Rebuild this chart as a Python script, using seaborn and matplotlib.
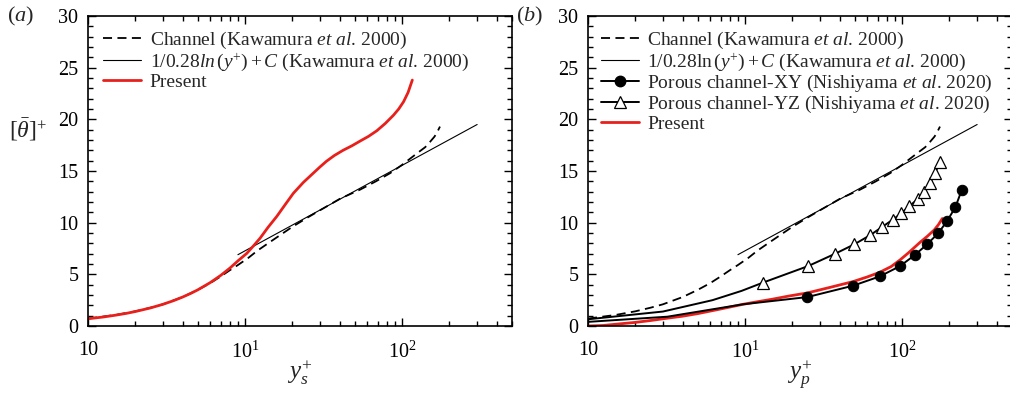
import numpy as np
import pandas as pd
import matplotlib
matplotlib.use("Agg")
import matplotlib.pyplot as plt
import seaborn as sns
from matplotlib.lines import Line2D
from matplotlib.ticker import FixedLocator, FixedFormatter, LogLocator, NullFormatter, MultipleLocator

# ---------------- data ----------------
# Channel DNS (Kawamura et al. 2000)
channel_y = [1, 1.5, 2, 2.5, 3, 4, 5, 6, 7, 8, 9, 10.5, 12, 14, 16, 20, 25, 30, 40, 54, 68, 84, 100, 124, 140, 150, 160, 165, 174]
channel_t = [0.72, 1.07, 1.42, 1.77, 2.1, 2.8, 3.5, 4.15, 4.8, 5.4, 5.9, 6.6, 7.3, 8.0, 8.6, 9.6, 10.5, 11.2, 12.3, 13.2, 14.0, 14.8, 15.6, 16.7, 17.3, 17.8, 18.3, 18.6, 19.3]

# log law 1/0.28 ln(y+) + C : end points
loglaw_y = [9, 300]
loglaw_t = [6.9, 19.5]

# Present, panel (a)
present_a_y = [1, 1.25, 1.5, 1.75, 2, 2.5, 3, 3.5, 4, 4.5, 5, 6, 7, 8, 9, 10.25, 11.3, 12.46, 14, 15.9, 18, 20.3, 23.5, 27.2,
               30, 33, 37, 42, 48, 54, 61, 69, 78, 88, 95, 102, 109, 116]
present_a_t = [0.7, 0.87, 1.05, 1.22, 1.4, 1.75, 2.1, 2.45, 2.8, 3.15, 3.5, 4.2, 4.9, 5.6, 6.3, 7.03, 7.75, 8.5, 9.55, 10.6, 11.75, 12.85, 13.9, 14.8,
               15.4, 15.95, 16.5, 17.0, 17.45, 17.9, 18.35, 18.9, 19.6, 20.4, 21.0, 21.7, 22.6, 23.8]

# Present, panel (b)
present_b_y = [1, 1.25, 1.5, 2, 2.5, 3, 4, 5, 7, 9.7, 12, 15, 19, 24.9, 35, 48.7, 60, 72, 85, 97, 110, 130, 145, 160, 170, 180]
present_b_t = [0.0, 0.05, 0.17, 0.35, 0.53, 0.7, 0.95, 1.2, 1.65, 2.1, 2.35, 2.6, 2.9, 3.2, 3.75, 4.3, 4.75, 5.2, 5.75, 6.4, 7.1, 8.1, 8.7, 9.3, 9.8, 10.4]

# Porous channel-XY (Nishiyama et al. 2020); markers from index 3 on
xy_y = [1, 3.2, 9.7, 24.9, 48.7, 72, 97, 121, 144, 170, 194, 218, 240]
xy_t = [0.4, 0.9, 2.1, 2.8, 3.9, 4.8, 5.8, 6.9, 7.9, 9.0, 10.2, 11.5, 13.2]
xy_first_marker = 3

# Porous channel-YZ (Nishiyama et al. 2020); markers from index 4 on
yz_y = [1, 3, 6.2, 9.5, 13.0, 25.2, 37.5, 49.5, 62.7, 74.7, 87.3, 98.5, 111, 126, 138, 150, 162, 174]
yz_t = [0.65, 1.4, 2.5, 3.4, 4.2, 5.8, 7.0, 7.9, 8.8, 9.6, 10.3, 10.9, 11.6, 12.3, 13.0, 13.8, 14.8, 15.9]
yz_first_marker = 4

xtick_vals = [1, 10, 100]
xtick_labels = ["10", r"10$^{1}$", r"10$^{2}$"]
ytick_vals = [0, 5, 10, 15, 20, 25, 30]

lab_channel = r"Channel (Kawamura $et$ $al$. 2000)"
lab_log_a = r"1/0.28$ln\,(y^{+}) + C$ (Kawamura $et$ $al$. 2000)"
lab_log_b = r"1/0.28$\mathrm{ln}\,(y^{+}) + C$ (Kawamura $et$ $al$. 2000)"
lab_xy = r"Porous channel-XY (Nishiyama $et$ $al$. 2020)"
lab_yz = r"Porous channel-YZ (Nishiyama $et$ $al$. 2020)"
lab_present = "Present"

# ---------------- style ----------------
sns.set_theme(style="ticks")
plt.rcParams["font.family"] = ["Liberation Serif", "DejaVu Serif"]
plt.rcParams["mathtext.fontset"] = "custom"
plt.rcParams["mathtext.rm"] = "Liberation Serif"
plt.rcParams["mathtext.it"] = "Liberation Serif:italic"
plt.rcParams["mathtext.bf"] = "Liberation Serif:bold"
FS = 14.5
LFS = 14

fig = plt.figure(figsize=(10.10, 3.96), dpi=100)
axa = fig.add_axes([88/1010, 70/396, 424/1010, 310/396])
axb = fig.add_axes([588/1010, 70/396, 424/1010, 310/396])

RED = "#e8201c"


def line(ax, x, y, **kw):
    df = pd.DataFrame({"x": x, "y": y})
    sns.lineplot(data=df, x="x", y="y", ax=ax, sort=False, estimator=None, legend=False, **kw)
    return ax.lines[-1]


def style_axes(ax, xlabel):
    ax.set_xscale("log")
    ax.set_xlim(1, 500)
    ax.set_ylim(0, 30)
    ax.xaxis.set_major_locator(FixedLocator(xtick_vals))
    ax.xaxis.set_major_formatter(FixedFormatter(xtick_labels))
    ax.xaxis.set_minor_locator(LogLocator(base=10, subs=np.arange(2, 10)))
    ax.xaxis.set_minor_formatter(NullFormatter())
    ax.yaxis.set_major_locator(FixedLocator(ytick_vals))
    ax.yaxis.set_minor_locator(MultipleLocator(1))
    ax.tick_params(which="both", direction="in", top=True, right=True, labelsize=FS, colors="black", width=1.0)
    ax.tick_params(which="major", length=6)
    ax.tick_params(axis="x", which="major", pad=11)
    ax.tick_params(axis="y", which="major", pad=7)
    ax.tick_params(which="minor", length=3.5)
    for s in ax.spines.values():
        s.set_linewidth(1.2)
        s.set_color("black")
    ax.set_xlabel(xlabel, fontsize=18, labelpad=-3)
    ax.set_ylabel("")


# ---- panel (a)
h_ch = line(axa, channel_y, channel_t, color="black", lw=1.3)
h_ch.set_dashes((5, 3))
h_log = line(axa, loglaw_y, loglaw_t, color="black", lw=0.8)
h_pr = line(axa, present_a_y, present_a_t, color=RED, lw=2.0)
style_axes(axa, r"$y_s^{+}$")
lg_ch = Line2D([], [], color="black", lw=1.3, dashes=(5, 3))
axa.legend([lg_ch, h_log, h_pr], [lab_channel, lab_log_a, lab_present], loc="upper left",
           bbox_to_anchor=(0.035, 0.955), frameon=False, fontsize=LFS, handlelength=1.95,
           handletextpad=0.45, labelspacing=0.0, borderpad=0, borderaxespad=0)
fig.text(28/1010, 1 - 130/396, r"$[\bar{\theta}]^{+}$", fontsize=17, ha="center", va="center")
fig.text(7/1010, 1 - 16/396, r"($a$)", fontsize=16, ha="left", va="center")
fig.text(516/1010, 1 - 16/396, r"($b$)", fontsize=16, ha="left", va="center")

# ---- panel (b)
hb_ch = line(axb, channel_y, channel_t, color="black", lw=1.3)
hb_ch.set_dashes((5, 3))
hb_log = line(axb, loglaw_y, loglaw_t, color="black", lw=0.8)
hb_pr = line(axb, present_b_y, present_b_t, color=RED, lw=2.0)
hb_xy = line(axb, xy_y, xy_t, color="black", lw=1.4, marker="o", markersize=7.5,
             markerfacecolor="black", markeredgecolor="black", markevery=list(range(xy_first_marker, len(xy_y))))
hb_yz = line(axb, yz_y, yz_t, color="black", lw=1.4, marker="^", markersize=9,
             markerfacecolor="white", markeredgecolor="black", markeredgewidth=0.9,
             markevery=list(range(yz_first_marker, len(yz_y))))
style_axes(axb, r"$y_p^{+}$")

lg_xy = Line2D([], [], color="black", lw=1.4, marker="o", markersize=7.5, markerfacecolor="black")
lg_yz = Line2D([], [], color="black", lw=1.4, marker="^", markersize=9, markerfacecolor="white",
               markeredgecolor="black", markeredgewidth=0.9)
axb.legend([lg_ch, hb_log, lg_xy, lg_yz, hb_pr], [lab_channel, lab_log_b, lab_xy, lab_yz, lab_present],
           loc="upper left", bbox_to_anchor=(0.03, 0.955), frameon=False, fontsize=LFS, handlelength=1.95,
           handletextpad=0.45, labelspacing=0.0, borderpad=0, borderaxespad=0)

fig.savefig("out.png", dpi=100)
